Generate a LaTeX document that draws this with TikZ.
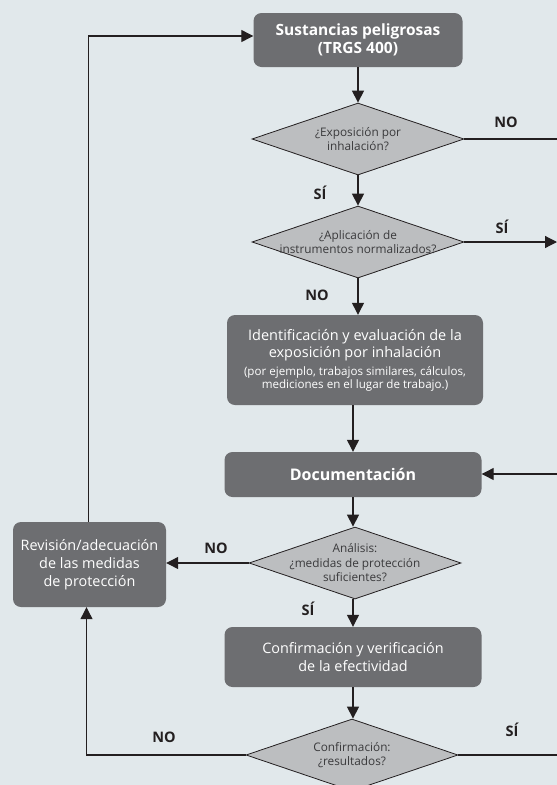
\documentclass[tikz,border=0pt]{standalone}
\usepackage{fontspec}
\setmainfont{Open Sans}
\usetikzlibrary{shapes.geometric,arrows.meta}
\definecolor{cfondo}{HTML}{E1E8EB}
\definecolor{ccaja}{HTML}{6D6E71}
\definecolor{crombo}{HTML}{BCBEC0}
\definecolor{clinea}{HTML}{231F20}
\definecolor{ctexto}{HTML}{3A3A3C}
\begin{document}
\begin{tikzpicture}[x=1pt,y=-1pt,
    proceso/.style={rectangle,rounded corners=8pt,fill=ccaja,text=white,align=center,
      inner sep=0pt,font=\fontsize{14.4}{18}\selectfont},
    decision/.style={diamond,draw=clinea,line width=0.8pt,fill=crombo,inner sep=0pt,
      minimum width=212pt,minimum height=72pt},
    dtexto/.style={text=ctexto,align=center,font=\fontsize{11.8}{14.5}\selectfont},
    etiqueta/.style={text=clinea,font=\bfseries\fontsize{14.5}{16}\selectfont},
    linea/.style={draw=clinea,line width=1.2pt},
    flecha/.style={linea,-{Triangle[length=12pt,width=12pt]}}]
  \path[use as bounding box,fill=cfondo] (0,0) rectangle (557,785);
  % cajas
  \node[proceso,minimum width=209pt,minimum height=54pt,
    font=\bfseries\fontsize{15.5}{18}\selectfont] (sust) at (358,40) {Sustancias peligrosas\\(TRGS 400)};
  \node[decision] (inhal) at (358,139) {};
  \node[dtexto] (inhaltxt) at (inhal) {¿Exposición por\\inhalación?};
  \node[decision] (instr) at (358,242) {};
  \node[dtexto] (instrtxt) at (instr) {¿Aplicación de\\instrumentos normalizados?};
  \node[proceso,minimum width=256pt,minimum height=90pt,font=\fontsize{14.5}{17}\selectfont] (ident) at (355,360)
    {Identificación y evaluación de la\\exposición por inhalación\\[1pt]
     {\fontsize{11.6}{13}\selectfont(por ejemplo, trabajos similares, cálculos,}\\[-4pt]
     {\fontsize{11.6}{13}\selectfont mediciones en el lugar de trabajo.)}};
  \node[proceso,minimum width=257pt,minimum height=45pt,
    font=\bfseries\fontsize{16}{18}\selectfont] (doc) at (353,474.5) {Documentación};
  \node[decision] (anal) at (355,563) {};
  \node[dtexto] (analtxt) at (anal) {Análisis:\\¿medidas de protección\\suficientes?};
  \node[proceso,minimum width=153pt,minimum height=85pt] (rev) at (89.5,564.5)
    {Revisión/adecuación\\de las medidas\\de protección};
  \node[proceso,minimum width=257pt,minimum height=60pt] (conf) at (353,657)
    {Confirmación y verificación\\de la efectividad};
  \node[decision] (result) at (352,755) {};
  \node[dtexto] (resulttxt) at (result) {Confirmación:\\¿resultados?};
  % salidas por el borde
  \coordinate (bordeA) at (557,138);
  \coordinate (bordeB) at (557,242);
  \coordinate (bordeC) at (557,474);
  \coordinate (bordeD) at (557,755);
  % conectores
  \draw[flecha] (sust.south) -- (sust.south |- inhal.north);
  \draw[flecha] (inhal.south) -- (instr.north);
  \draw[linea] (inhal.east) -- (inhal.east -| bordeA);
  \draw[flecha] (instr.east) -- (bordeB);
  \draw[flecha] (instr.south) -- (instr.south |- ident.north);
  \draw[flecha] (ident.south -| doc.north) -- (doc.north);
  \draw[flecha] (bordeC) -- (doc.east |- bordeC);
  \draw[flecha] (doc.south) -- (doc.south |- anal.north);
  \draw[flecha] (anal.west) -- (rev.east |- anal.west);
  \draw[flecha] (anal.south -| conf.north) -- (conf.north);
  \draw[flecha] (conf.south) -- (conf.south |- result.north);
  \draw[flecha] (result.west) -| ([xshift=-3pt]rev.south);
  \draw[linea] (result.east) -- (result.east -| bordeD);
  \draw[flecha] ([xshift=-1pt]rev.north) |- ([yshift=4pt]sust.west);
  % etiquetas
  \node[etiqueta] (noA) at (506,122) {NO};
  \node[etiqueta] (siA) at (320,193) {SÍ};
  \node[etiqueta] (siB) at (502,227) {SÍ};
  \node[etiqueta] (noB) at (317,295) {NO};
  \node[etiqueta] (noC) at (216,548) {NO};
  \node[etiqueta] (siC) at (308,609) {SÍ};
  \node[etiqueta] (noD) at (164,737) {NO};
  \node[etiqueta] (siD) at (512,730) {SÍ};
\end{tikzpicture}
\end{document}
